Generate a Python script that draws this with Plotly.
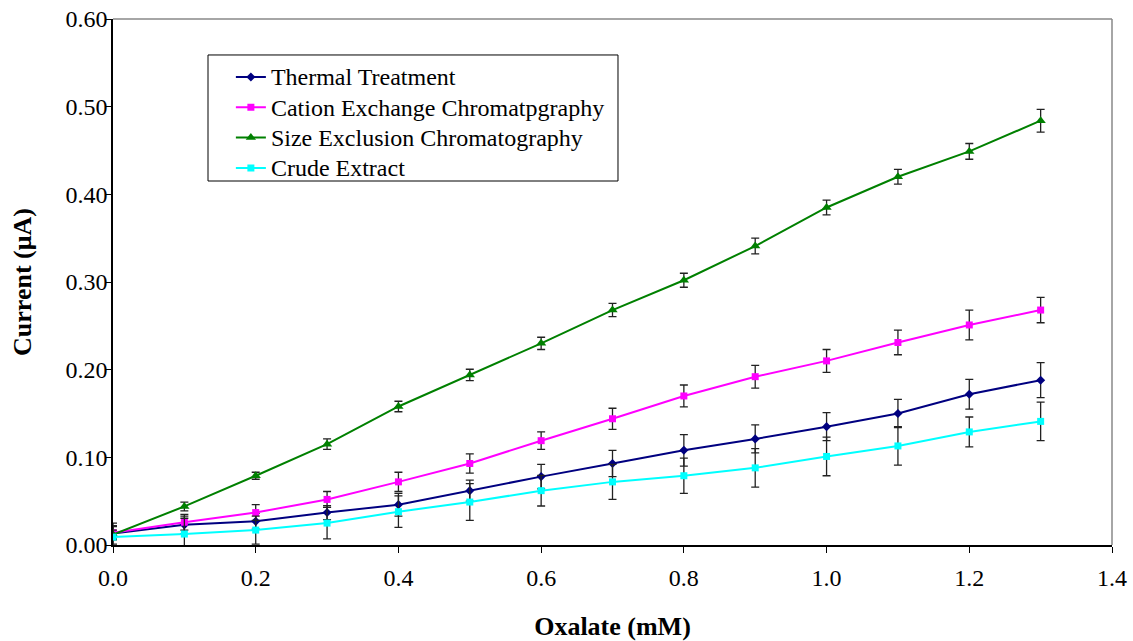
import plotly.graph_objects as go

x = [0.0, 0.1, 0.2, 0.3, 0.4, 0.5, 0.6, 0.7, 0.8, 0.9, 1.0, 1.1, 1.2, 1.3]

thermal = [0.013, 0.023, 0.027, 0.037, 0.046, 0.062, 0.078, 0.093, 0.108, 0.121, 0.135, 0.150, 0.172, 0.188]
thermal_err = [0.012, 0.010, 0.009, 0.008, 0.013, 0.012, 0.014, 0.015, 0.018, 0.016, 0.016, 0.016, 0.017, 0.020]

cation = [0.014, 0.026, 0.037, 0.052, 0.072, 0.093, 0.119, 0.144, 0.170, 0.192, 0.210, 0.231, 0.251, 0.268]
cation_err = [0.008, 0.009, 0.009, 0.009, 0.011, 0.011, 0.010, 0.012, 0.0125, 0.013, 0.013, 0.014, 0.017, 0.0145]

size_excl = [0.012, 0.044, 0.079, 0.115, 0.158, 0.194, 0.230, 0.268, 0.302, 0.341, 0.385, 0.420, 0.449, 0.484]
size_excl_err = [0.005, 0.005, 0.004, 0.006, 0.006, 0.0065, 0.007, 0.0076, 0.008, 0.009, 0.0084, 0.0084, 0.009, 0.013]

crude = [0.009, 0.0125, 0.017, 0.025, 0.038, 0.049, 0.062, 0.072, 0.079, 0.088, 0.101, 0.113, 0.129, 0.141]
crude_err = [0.012, 0.018, 0.016, 0.018, 0.018, 0.021, 0.0175, 0.020, 0.020, 0.022, 0.022, 0.022, 0.017, 0.022]

series = [
    ("Thermal Treatment", thermal, thermal_err, "#000080", "diamond", 7),
    ("Cation Exchange Chromatpgraphy", cation, cation_err, "#FF00FF", "square", 7),
    ("Size Exclusion Chromatography", size_excl, size_excl_err, "#008000", "triangle-up", 9),
    ("Crude Extract", crude, crude_err, "#00FFFF", "square", 7),
]

FONT = "Liberation Serif"

fig = go.Figure()
for name, vals, errs, color, sym, size in series:
    fig.add_trace(go.Scatter(
        x=x, y=vals, mode="lines+markers",
        name='<span style="font-size:24px">' + name + "</span>",
        line=dict(color=color, width=2),
        marker=dict(color=color, symbol=sym, size=size),
        error_y=dict(type="data", array=errs, visible=True,
                     color="#222222", thickness=1.3, width=4),
    ))

fig.update_layout(
    width=1133, height=641,
    margin=dict(l=113, r=21, t=19, b=96),
    paper_bgcolor="white", plot_bgcolor="white",
    font=dict(family=FONT, size=24, color="black"),
    showlegend=True,
    legend=dict(
        x=0.118, y=0.928, xanchor="left", yanchor="top",
        bgcolor="rgba(0,0,0,0)", borderwidth=0,
        font=dict(family=FONT, size=21, color="black"),
        itemwidth=30, tracegroupgap=0,
    ),
    xaxis=dict(
        range=[0, 1.4], dtick=0.2, tickformat=".1f",
        showgrid=False, zeroline=False, automargin=False,
        showline=True, linecolor="black", linewidth=1.5,
        ticks="outside", ticklen=6, tickcolor="black",
        ticklabelstandoff=4,
        tickfont=dict(family=FONT, size=24),
        title=dict(text="<b>Oxalate (mM)</b>", font=dict(family=FONT, size=26), standoff=41),
    ),
    yaxis=dict(
        range=[0, 0.6], dtick=0.1, tickformat=".2f",
        showgrid=False, zeroline=False, automargin=False,
        showline=True, linecolor="black", linewidth=1.5,
        ticks="outside", ticklen=6, tickcolor="black",
        ticklabelstandoff=-7,
        tickfont=dict(family=FONT, size=24),
        title=dict(text="<b>Current (μA)</b>", font=dict(family=FONT, size=26), standoff=26),
    ),
    shapes=[
        dict(type="rect", xref="paper", yref="paper", x0=0.0951, x1=0.5055, y0=0.692, y1=0.9316,
             line=dict(color="black", width=1), fillcolor="white", layer="below"),
        dict(type="line", xref="paper", yref="paper", x0=0, x1=1, y0=1, y1=1,
             line=dict(color="#888888", width=1.5)),
        dict(type="line", xref="paper", yref="paper", x0=1, x1=1, y0=0, y1=1,
             line=dict(color="#888888", width=1.5)),
    ],
)

fig.write_html("out.html")
